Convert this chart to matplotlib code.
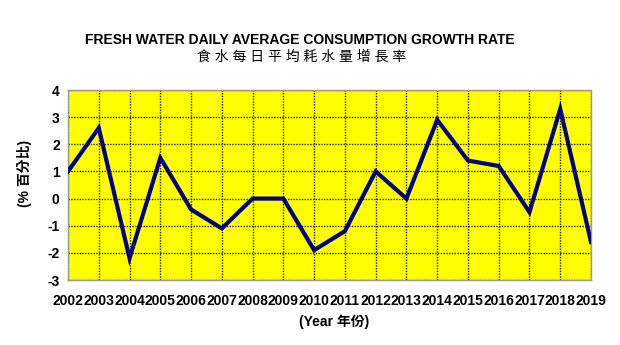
import numpy as np
import matplotlib.pyplot as plt

# Growth rate of fresh water daily average consumption (%)
years = list(range(2002, 2020))
growth = [1.0, 2.6, -2.2, 1.5, -0.4, -1.1, 0.0, 0.0, -1.9, -1.2,
          1.0, 0.0, 2.9, 1.4, 1.2, -0.5, 3.3, -1.6]
y_ticks = [-3, -2, -1, 0, 1, 2, 3, 4]

title_en = 'FRESH WATER DAILY AVERAGE CONSUMPTION GROWTH RATE'
title_zh = '食水每日平均耗水量增長率'
y_label = '(% 百分比)'
x_label = '(Year 年份)'

fonts = ['Liberation Sans', 'Noto Sans CJK TC', 'DejaVu Sans']
plt.rcParams['font.family'] = fonts

fig = plt.figure(figsize=(6.2, 3.45), dpi=100)
ax = fig.add_axes([68 / 620, 65 / 345, 523 / 620, 190 / 345])

ax.set_facecolor('#ffff00')
ax.plot(years, growth, color='#000080', linewidth=3, solid_joinstyle='miter', zorder=3)

ax.set_xlim(years[0], years[-1])
ax.set_ylim(-3, 4)
ax.set_xticks(years)
ax.set_xticklabels([str(y) for y in years], fontsize=10, fontweight='bold')
ax.set_yticks(y_ticks)
ax.set_yticklabels([str(v) for v in y_ticks], fontsize=10, fontweight='bold')
ax.tick_params(length=0, pad=6)
ax.tick_params(axis='x', pad=10)
ax.grid(True, color='#222200', linestyle=(0, (1, 1)), linewidth=1)
for s in ax.spines.values():
    s.set_color('#999999')
    s.set_linewidth(1)

fig.text(300 / 620, 1 - 40 / 345, title_en, ha='center', va='center',
         fontsize=10, fontweight='bold')
fig.text(302 / 620, 1 - 57 / 345, ' '.join(title_zh), ha='center', va='center',
         fontsize=10)
fig.text(24 / 620, 1 - 173 / 345, y_label, rotation=90, ha='center', va='center',
         fontsize=10, fontweight='bold')
fig.text(334 / 620, 1 - 322 / 345, x_label, ha='center', va='center',
         fontsize=10, fontweight='bold')

fig.savefig('out.png', dpi=100)
